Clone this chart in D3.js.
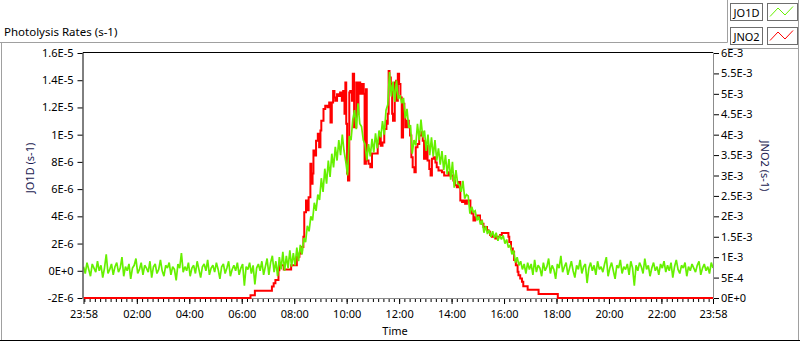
<!DOCTYPE html>
<html>
<head>
<meta charset="utf-8">
<script src="https://cdn.jsdelivr.net/npm/d3@7"></script>
<style>
  body { margin: 0; background: #fff; }
  svg text { font-family: "Noto Sans", sans-serif; fill: #000; }
</style>
</head>
<body>
<div id="chart"></div>
<script>
// JO1D sampled every 4 minutes starting at 23:58 (minutes from midnight), values in 1E-6 s-1
const jo1dStartMin = -2;
const jo1dStepMin = 4;
const jo1dE6 = [
  0.3, -0.2, 0.6, 0.1, -0.4, 0.5, 0.2, -0.1, 0.7, 0.0,
  0.4, -0.5, 0.2, 1.2, -0.2, 0.1, 0.5, -0.3, 0.3, 0.6,
  -0.1, 0.2, 1.0, -0.4, 0.3, 0.0, 0.5, -0.6, 0.2, 0.4,
  0.9, -0.2, 0.1, 0.6, -0.3, 0.4, 0.2, -0.1, 0.7, -0.5,
  0.3, 0.5, -0.2, 0.1, 0.8, 0.0, -0.4, 0.4, 0.2, 0.6,
  -0.3, 0.3, 0.1, -0.7, 0.5, 0.2, 1.3, -0.1, 0.3, 0.0,
  0.6, -0.4, 0.2, 0.4, -0.2, 0.7, 0.1, -0.5, 0.3, 0.5,
  0.0, 0.8, -0.3, 0.2, 0.4, -0.1, 0.6, 0.1, -0.6, 0.3,
  0.5, -0.2, 0.2, 0.7, -0.4, 0.1, 0.4, 0.0, 0.6, -0.3,
  0.2, 0.5, -1.1, 0.3, 0.1, 0.6, -0.2, 0.4, -1.0, 0.2,
  0.5, 0.0, 0.7, -0.3, 0.3,
  0.9, -0.3, 0.6, 1.1, -0.1,
  0.7, -0.4, 1.0, 0.1, 1.4,
  0.0, 1.1, 0.2, 1.5, 0.3,
  1.3, 0.4, 1.7, 0.7, 1.9,
  1.2, 2.4, 2.1, 3.3, 2.9,
  4.0, 3.7, 5.0, 4.4, 5.6,
  5.2, 6.8, 5.8, 7.5, 6.4,
  8.1, 6.9, 8.6, 7.6, 9.1,
  8.1, 9.6, 8.5, 10.0, 8.8,
  8.0, 7.0, 9.9, 9.6, 11.1,
  11.8, 10.4, 12.3, 10.8, 10.6,
  9.6, 9.3, 8.1, 9.3, 8.4,
  9.7, 8.7, 10.1, 9.0, 10.3,
  9.8, 11.0, 10.0, 11.8, 12.2,
  14.6, 12.8, 13.9, 12.4, 14.0,
  12.6, 12.9, 12.3, 12.7, 11.2,
  11.9, 10.5, 10.7, 8.6, 9.6,
  9.2, 10.8, 9.6, 11.1, 9.8,
  10.3, 8.8, 10.0, 8.5, 9.8,
  8.4, 9.6, 8.1, 9.0, 7.8,
  8.8, 7.4, 8.5, 7.1, 8.2,
  6.7, 8.0, 6.1, 7.4, 6.4,
  6.3, 5.8, 6.6, 5.3, 5.6,
  5.5, 4.2, 4.7, 4.3, 4.4,
  3.7, 4.0, 3.4, 3.7, 2.8,
  3.3, 2.7, 3.0, 2.5, 2.9,
  2.4, 2.8, 2.2, 2.6, 2.3,
  2.6, 2.0, 2.3, 1.7, 1.9,
  1.2, 1.5, 0.6, 1.0, 0.4,
  0.7, 0.1, 0.5, -0.2, 0.6,
  0.1, 0.5, -0.3, 0.8, -0.1, 0.4,
  0.2, -0.4, 0.6, 0.0, 0.3, 0.9, -0.2, 0.4, 0.1, -0.6,
  0.5, 0.2, 1.1, -0.1, 0.3, 0.6, -0.3, 0.2, 0.7, 0.0,
  -0.5, 0.4, 0.1, 0.8, -0.2, 0.3, 0.5, -0.9, 0.2, 0.6,
  0.0, 0.4, -0.3, 0.7, 0.1, 0.3, -0.1, 0.5, 1.0, -0.4,
  0.2, 0.6, 0.0, -0.6, 0.4, 0.2, 0.8, -0.2, 0.3, 0.1,
  0.5, -0.3, 0.7, 0.2, -1.1, 0.4, 0.0, 0.6, 0.3, -0.2,
  0.9, 0.1, 0.4, -0.4, 0.2, 0.6, 0.0, 0.3, -0.3, 0.5,
  0.2, 0.7, -0.1, 0.4, 0.0, 0.6, -0.5, 0.3, 0.8, 0.1,
  -0.2, 0.4, 0.2, 0.6, -0.4, 0.3, 0.0, 0.5, 0.2, -0.1,
  0.4, 0.7, -0.3, 0.2, 0.5, 0.0, 0.3, -0.2, 0.6, 0.2
];

// JNO2 step series: change times (minutes from midnight) and values in 1E-3 s-1
const jno2Min = [
  -2, 380, 390, 429, 433, 437, 444, 446, 456, 473, 486, 492, 496, 498, 501, 503,
  507, 511, 513, 517, 519, 522, 524, 527, 530, 534, 537, 540, 542, 547, 551, 556,
  560, 563, 566, 569, 572, 574, 578, 582, 585, 589, 592, 595, 597, 599, 601, 603,
  606, 608, 612, 614, 617, 622, 625, 627, 631, 635, 639, 641, 644, 646, 650, 654,
  658, 671, 675, 678, 682, 686, 691, 692, 694, 696, 698, 701, 704, 706, 710, 713,
  715, 717, 720, 723, 726, 729, 732, 734, 738, 742, 745, 748, 751, 755, 758, 762,
  766, 771, 774, 777, 781, 785, 789, 792, 795, 799, 803, 806, 810, 818, 823, 833,
  837, 844, 848, 852, 856, 860, 864, 867, 871, 875, 883, 886, 890, 894, 898, 905,
  909, 913, 921, 924, 928, 932, 940, 944, 951, 955, 970, 972, 976, 980, 983, 987,
  991, 993, 997, 1001, 1004, 1014, 1039, 1083, 1438
];
const jno2E3 = [
  0, 0.07, 0.18, 0.28, 0.36, 0.44, 0.68, 0.80, 0.70, 0.80, 1.01, 1.09, 1.17, 1.25, 1.50, 2.10,
  2.39, 2.15, 2.47, 3.29, 2.80, 3.05, 3.61, 3.49, 3.85, 4.02, 3.69, 4.10, 4.34, 4.63, 4.71, 4.67,
  4.79, 4.30, 4.79, 5.07, 4.91, 4.83, 4.99, 4.95, 5.03, 4.83, 5.07, 4.51, 5.28, 4.27, 3.05, 2.88,
  5.03, 5.07, 4.83, 5.49, 4.18, 5.28, 4.51, 5.28, 5.00, 5.24, 5.00, 3.29, 5.11, 3.37, 3.29, 3.20,
  3.54, 3.78, 4.02, 3.73, 3.81, 4.14, 4.34, 4.27, 4.51, 5.56, 5.40, 5.24, 4.51, 4.34, 5.28, 5.32,
  4.83, 5.49, 5.24, 4.91, 3.93, 4.76, 4.51, 4.18, 4.34, 4.18, 3.98, 3.45, 3.20, 3.08, 3.69, 3.77,
  3.98, 4.06, 3.85, 3.41, 3.73, 3.37, 3.16, 3.00, 3.41, 3.45, 3.32, 3.20, 3.12, 3.08, 3.00, 3.08,
  3.00, 2.88, 2.76, 2.71, 2.84, 2.39, 2.35, 2.39, 2.31, 2.39, 2.19, 2.07, 1.90, 1.98, 2.02, 1.90,
  1.82, 1.74, 1.66, 1.62, 1.54, 1.50, 1.46, 1.50, 1.54, 1.59, 1.50, 1.37, 1.21, 1.13, 0.93, 0.80,
  0.64, 0.56, 0.48, 0.40, 0.29, 0.20, 0.10, 0, 0
];

// axis ticks
const timeTickMin = [-2, 120, 240, 360, 480, 600, 720, 840, 960, 1080, 1200, 1320, 1438];
const timeTickLabels = ["23:58", "02:00", "04:00", "06:00", "08:00", "10:00", "12:00",
  "14:00", "16:00", "18:00", "20:00", "22:00", "23:58"];
const leftTicks = [-2e-6, 0, 2e-6, 4e-6, 6e-6, 8e-6, 1e-5, 1.2e-5, 1.4e-5, 1.6e-5];
const leftTickLabels = ["-2E-6", "0E+0", "2E-6", "4E-6", "6E-6", "8E-6", "1E-5", "1.2E-5", "1.4E-5", "1.6E-5"];
const rightTicks = [0, 5e-4, 1e-3, 1.5e-3, 2e-3, 2.5e-3, 3e-3, 3.5e-3, 4e-3, 4.5e-3, 5e-3, 5.5e-3, 6e-3];
const rightTickLabels = ["0E+0", "5E-4", "1E-3", "1.5E-3", "2E-3", "2.5E-3", "3E-3", "3.5E-3",
  "4E-3", "4.5E-3", "5E-3", "5.5E-3", "6E-3"];

const seriesNames = ["JO1D", "JNO2"];
const seriesColors = ["#66f000", "#ff0000"];

const width = 800, height = 342;
const plot = { left: 83.5, right: 713, top: 53, bottom: 298 };

const svg = d3.select("#chart").append("svg")
  .attr("width", width)
  .attr("height", height);

// outer frame
const frame = svg.append("g").attr("fill", "none");
frame.append("path").attr("stroke", "#a0a0a0")
  .attr("d", "M0,42.5H727.5V0 M1.5,42.5V340 M798.5,0V340 M727.5,48.5H798.5");
frame.append("path").attr("stroke", "#000").attr("d", "M0,340.5H800");

svg.append("text")
  .attr("x", 4).attr("y", 35.5)
  .attr("font-size", 11.5)
  .text("Photolysis Rates (s-1)");

// scales
const x = d3.scaleLinear().domain([-2, 1438]).range([plot.left, plot.right]);
const yL = d3.scaleLinear().domain([-2e-6, 1.6e-5]).range([plot.bottom, plot.top]);
const yR = d3.scaleLinear().domain([0, 6e-3]).range([plot.bottom, plot.top]);

// plot border: grey bottom/right drawn under the traces, dark top/left
svg.append("path").attr("fill", "none").attr("stroke", "#8c8c8c")
  .attr("d", `M${plot.left - 0.5},${plot.bottom + 0.5}H${plot.right + 0.5}V${plot.top - 0.5}`);

// clip
svg.append("clipPath").attr("id", "plotClip")
  .append("rect")
  .attr("x", plot.left).attr("y", plot.top - 1)
  .attr("width", plot.right - plot.left).attr("height", plot.bottom - plot.top + 2);

const lines = svg.append("g").attr("clip-path", "url(#plotClip)");

const redLine = d3.line()
  .curve(d3.curveStepAfter)
  .x((d, i) => x(jno2Min[i]))
  .y(d => yR(d * 1e-3));

const greenLine = d3.line()
  .x((d, i) => x(jo1dStartMin + i * jo1dStepMin))
  .y(d => yL(d * 1e-6));

lines.append("path")
  .attr("d", redLine(jno2E3))
  .attr("fill", "none")
  .attr("stroke", seriesColors[1])
  .attr("stroke-width", 2);

lines.append("path")
  .attr("d", greenLine(jo1dE6))
  .attr("fill", "none")
  .attr("stroke", seriesColors[0])
  .attr("stroke-width", 1.7)
  .attr("stroke-linejoin", "miter")
  .attr("stroke-miterlimit", 2);

svg.append("path").attr("fill", "none").attr("stroke", "#000")
  .attr("d", `M${plot.left - 0.5},${plot.bottom}V${plot.top - 0.5}H${plot.right}`);

// axes
function styleAxis(g) {
  g.select(".domain").remove();
  g.selectAll(".tick line").attr("stroke", "#000");
  g.selectAll(".tick text").attr("font-size", 11).attr("font-family", "Noto Sans, sans-serif");
}

svg.append("g")
  .attr("transform", `translate(0,${plot.bottom + 1})`)
  .call(d3.axisBottom(x).tickValues(d3.range(0, 1440, 12)).tickSize(3).tickFormat(""))
  .call(styleAxis);

svg.append("g")
  .attr("transform", `translate(0,${plot.bottom + 1})`)
  .call(d3.axisBottom(x).tickValues(timeTickMin).tickSize(5).tickPadding(6)
    .tickFormat((d, i) => timeTickLabels[i]))
  .call(styleAxis);

svg.append("g")
  .attr("transform", `translate(${plot.left - 1},0)`)
  .call(d3.axisLeft(yL).tickValues(leftTicks).tickSize(5).tickPadding(4)
    .tickFormat((d, i) => leftTickLabels[i]))
  .call(styleAxis);

svg.append("g")
  .attr("transform", `translate(${plot.right + 1},0)`)
  .call(d3.axisRight(yR).tickValues(rightTicks).tickSize(5).tickPadding(2)
    .tickFormat((d, i) => rightTickLabels[i]))
  .call(styleAxis);

// axis titles
svg.append("text")
  .attr("transform", "translate(30,168) rotate(-90)")
  .attr("text-anchor", "middle").attr("dy", "0.35em")
  .attr("font-size", 11).style("fill", "#1a1a50")
  .text("JO1D (s-1)");

svg.append("text")
  .attr("transform", "translate(765,166) rotate(90)")
  .attr("text-anchor", "middle").attr("dy", "0.35em")
  .attr("font-size", 11).style("fill", "#1a1a50")
  .text("JNO2 (s-1)");

svg.append("text")
  .attr("x", 395).attr("y", 335)
  .attr("text-anchor", "middle")
  .attr("font-size", 11)
  .text("Time");

// legend
const legend = svg.append("g");
seriesNames.forEach((name, i) => {
  const row = legend.append("g").attr("transform", `translate(0,${i * 24})`);
  row.append("rect")
    .attr("x", 730.5).attr("y", 3.5).attr("width", 32).attr("height", 17)
    .attr("fill", "#fff").attr("stroke", "#6e6e6e");
  row.append("text")
    .attr("x", 746.5).attr("y", 16.5)
    .attr("text-anchor", "middle")
    .attr("font-size", 11)
    .text(name);
  row.append("rect")
    .attr("x", 767.5).attr("y", 3.5).attr("width", 30).attr("height", 17)
    .attr("fill", "#fff").attr("stroke", "#6e6e6e");
  row.append("polyline")
    .attr("points", "770,16.5 778,8 785,15 793,6.5")
    .attr("fill", "none")
    .attr("stroke", seriesColors[i])
    .attr("stroke-width", 1);
});
</script>
</body>
</html>
